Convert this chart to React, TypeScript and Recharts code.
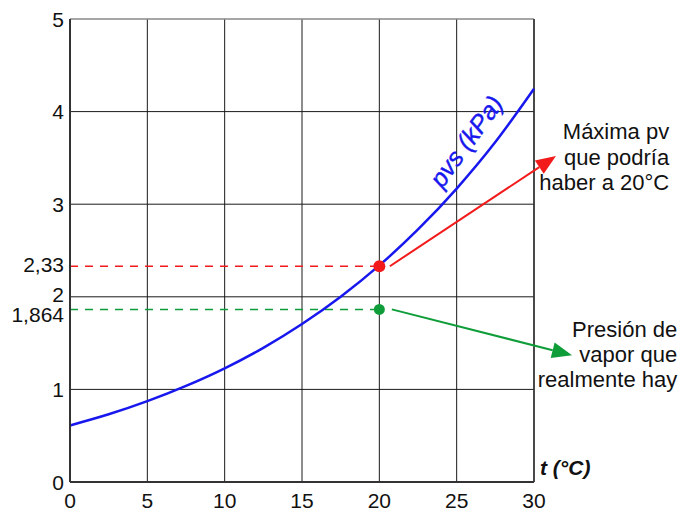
import React from "react";
import {
  CartesianGrid,
  Line,
  LineChart,
  ReferenceDot,
  ReferenceLine,
  XAxis,
  YAxis
} from "recharts";

// saturation vapour pressure of water (kPa)
const tempC = [0, 2.5, 5, 7.5, 10, 12.5, 15, 17.5, 20, 22.5, 25, 27.5, 30];
const pvs = [0.611, 0.731, 0.873, 1.038, 1.228, 1.449, 1.706, 2.001, 2.339, 2.727, 3.169, 3.671, 4.246];

const xTicks = [0, 5, 10, 15, 20, 25, 30];
const yTicks = [0, 1, 1.864, 2, 2.33, 3, 4, 5];
const yGrid = [1, 2, 3, 4];

const markT = 20;
const pvsAt20 = 2.33;
const pvReal = 1.864;

// arrows: [start, tip] in chart units
const redArrow = [
  { x: 20.68, y: 2.33 },
  { x: 31.42, y: 3.52 }
];
const greenArrow = [
  { x: 20.81, y: 1.864 },
  { x: 32.46, y: 1.37 }
];

const redText = ["Máxima pv", "que podría", "haber a 20°C"];
const greenText = ["Presión de", "vapor que", "realmente hay"];

const data = tempC.map((t, i) => ({ t, pvs: pvs[i] }));

const BLUE = "#1717ee";
const RED = "#f21a1a";
const GREEN = "#0f9d3a";
const FONT = "'Liberation Sans', Arial, sans-serif";

const fmt = (v: number) => String(v).replace(".", ",");

function YTick(props: any) {
  const { x, y, payload } = props;
  const nudge = payload.value === 2 ? -2 : payload.value === 1.864 ? 5 : payload.value === 2.33 ? -2 : 0;
  return (
    <text x={x} y={y + nudge} dy="0.36em" textAnchor="end" fontSize={21} fontFamily={FONT} fill="#111">
      {fmt(payload.value)}
    </text>
  );
}

function arrowShape(color: string) {
  return (props: any) => {
    const { x1, y1, x2, y2 } = props;
    const ang = Math.atan2(y2 - y1, x2 - x1);
    const len = 20;
    const half = 8;
    const bx = x2 - len * Math.cos(ang);
    const by = y2 - len * Math.sin(ang);
    const px = -Math.sin(ang) * half;
    const py = Math.cos(ang) * half;
    return (
      <g>
        <line x1={x1} y1={y1} x2={bx} y2={by} stroke={color} strokeWidth={2} />
        <polygon points={`${x2},${y2} ${bx + px},${by + py} ${bx - px},${by - py}`} fill={color} />
      </g>
    );
  };
}

function textBlock(lines: string[], lineHeight: number) {
  return (props: any) => {
    const vb = props.viewBox;
    const cx = vb.x + vb.width / 2;
    const cy = vb.y + vb.height / 2;
    return (
      <text textAnchor="end" fontSize={22} fontFamily={FONT} fill="#111">
        {lines.map((l, i) => (
          <tspan key={i} x={cx} y={cy + (i - 1) * lineHeight} dy="0.36em">
            {l}
          </tspan>
        ))}
      </text>
    );
  };
}

function curveLabel(props: any) {
  const vb = props.viewBox;
  const cx = vb.x + vb.width / 2;
  const cy = vb.y + vb.height / 2;
  return (
    <text
      x={cx}
      y={cy}
      dy="0.36em"
      textAnchor="middle"
      fontSize={25}
      fontStyle="italic"
      fontFamily={FONT}
      fill={BLUE}
      stroke={BLUE}
      strokeWidth={0.4}
      transform={`rotate(-54 ${cx} ${cy})`}
    >
      pvs (kPa)
    </text>
  );
}

function axisTitle(props: any) {
  const vb = props.viewBox;
  return (
    <text
      x={vb.x + vb.width + 6}
      y={vb.y - 15}
      dy="0.36em"
      fontSize={21}
      fontStyle="italic"
      fontWeight="bold"
      fontFamily={FONT}
      fill="#111"
    >
      t (°C)
    </text>
  );
}

export default function App() {
  return (
    <div style={{ position: "absolute", left: 0, top: 0, width: 695, height: 512, background: "#fff" }}>
      <LineChart
        width={695}
        height={512}
        data={data}
        margin={{ top: 19, right: 161, bottom: 0, left: 0 }}
        style={{ fontFamily: FONT }}
      >
        <CartesianGrid horizontal={false} stroke="#1a1a1a" strokeWidth={1} />
        {yGrid.map((v) => (
          <ReferenceLine key={v} y={v} stroke="#1a1a1a" strokeWidth={1} />
        ))}
        <ReferenceLine y={5} stroke="#888" strokeWidth={1.5} />
        <ReferenceLine x={30} stroke="#333" strokeWidth={1.5} />
        <XAxis
          dataKey="t"
          type="number"
          domain={[0, 30]}
          ticks={xTicks}
          interval={0}
          height={30}
          tickLine={false}
          tickSize={0}
          tickMargin={11}
          axisLine={{ stroke: "#333", strokeWidth: 2 }}
          tick={{ fontSize: 21, fill: "#111", fontFamily: FONT }}
          label={{ content: axisTitle }}
        />
        <YAxis
          type="number"
          domain={[0, 5]}
          ticks={yTicks}
          interval={0}
          width={70}
          tickLine={false}
          tickSize={0}
          tickMargin={6}
          axisLine={{ stroke: "#333", strokeWidth: 2 }}
          tick={<YTick />}
        />
        <ReferenceLine
          segment={[
            { x: 0, y: pvsAt20 },
            { x: markT, y: pvsAt20 }
          ]}
          stroke={RED}
          strokeWidth={1.5}
          strokeDasharray="8 7"
        />
        <ReferenceLine
          segment={[
            { x: 0, y: pvReal },
            { x: markT, y: pvReal }
          ]}
          stroke={GREEN}
          strokeWidth={1.5}
          strokeDasharray="8 7"
        />
        <Line
          type="monotone"
          dataKey="pvs"
          stroke={BLUE}
          strokeWidth={2.5}
          dot={false}
          activeDot={false}
          isAnimationActive={false}
        />
        <ReferenceLine segment={redArrow} ifOverflow="visible" shape={arrowShape(RED)} />
        <ReferenceLine segment={greenArrow} ifOverflow="visible" shape={arrowShape(GREEN)} />
        <ReferenceDot x={markT} y={pvsAt20} r={6} fill={RED} stroke="none" />
        <ReferenceDot x={markT} y={pvReal} r={5.5} fill={GREEN} stroke="none" />
        <ReferenceDot x={25.6} y={3.68} r={0} fill="none" stroke="none" ifOverflow="visible" label={curveLabel} />
        <ReferenceDot x={38.74} y={3.51} r={0} fill="none" stroke="none" ifOverflow="visible" label={textBlock(redText, 25.5)} />
        <ReferenceDot x={39.26} y={1.38} r={0} fill="none" stroke="none" ifOverflow="visible" label={textBlock(greenText, 25)} />
      </LineChart>
    </div>
  );
}
